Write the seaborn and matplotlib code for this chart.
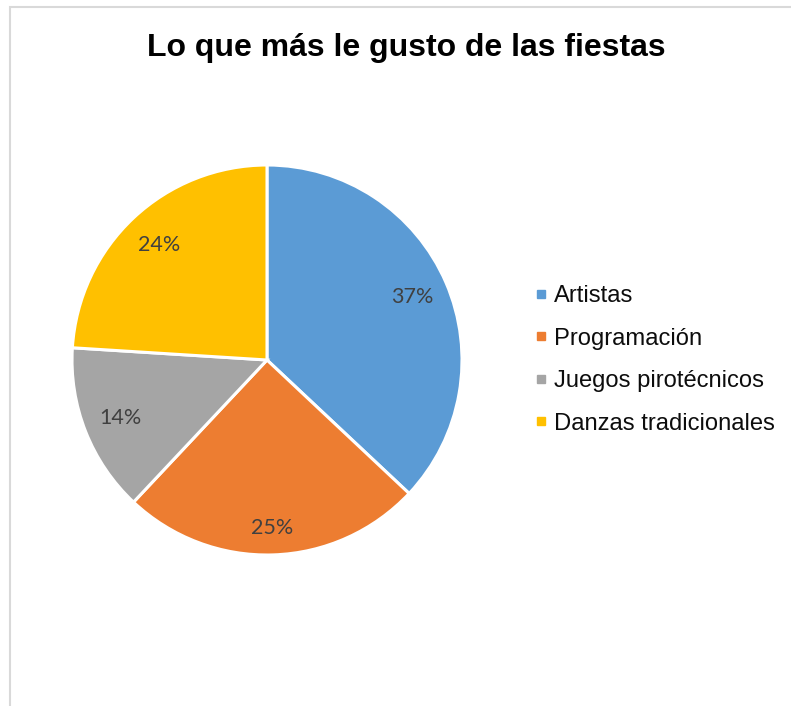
import matplotlib
matplotlib.use("Agg")
import matplotlib.pyplot as plt
import seaborn as sns
from matplotlib.lines import Line2D
from matplotlib.patches import Rectangle

categorias = ["Artistas", "Programación", "Juegos pirotécnicos", "Danzas tradicionales"]
porcentajes = [37, 25, 14, 24]
colores = ["#5B9BD5", "#ED7D31", "#A5A5A5", "#FFC000"]
titulo = "Lo que más le gusto de las fiestas"

sns.set_theme(style="white")
plt.rcParams['font.family'] = ['Liberation Sans', 'DejaVu Sans']
paleta = sns.color_palette(colores)

fig = plt.figure(figsize=(7.91, 7.06), dpi=100)

# chart border (light gray, cut by the image on right/bottom)
fig.patches.append(Rectangle((10/791, -0.1), 1.2, (706-7)/706 + 0.1,
                             transform=fig.transFigure, fill=False,
                             edgecolor="#D9D9D9", linewidth=1.5))

ax = fig.add_axes([72/791, (706-555)/706, 390/791, 390/706])
wedges, texts, autotexts = ax.pie(
    porcentajes, colors=paleta, startangle=90, counterclock=False,
    autopct="%1.0f%%", pctdistance=0.81,
    wedgeprops=dict(edgecolor="white", linewidth=2.2))
for t in autotexts:
    t.set_fontfamily(["Lato", "DejaVu Sans"])
    t.set_fontsize(15.5)
    t.set_color("#404040")
# excel pushes the bottom label a bit further out
x, y = autotexts[1].get_position()
autotexts[1].set_position((x * 0.86 / 0.81, y * 0.86 / 0.81))
ax.set_xlim(-1.0, 1.0)
ax.set_ylim(-1.0, 1.0)
ax.set_aspect("equal")

fig.text(406/791, 1 - 48/706, titulo, ha="center", va="center",
         fontsize=23, fontweight="bold", color="black")

handles = [Line2D([0], [0], marker="s", linestyle="none", markersize=6,
                  markerfacecolor=c, markeredgecolor=c) for c in paleta]
leg = fig.legend(handles, categorias, loc="center left",
                 bbox_to_anchor=(534/791, 1 - 360/706), frameon=False,
                 fontsize=17.1, handlelength=0.6, handletextpad=0.25,
                 labelspacing=0.86, borderpad=0, borderaxespad=0)
for t in leg.get_texts():
    t.set_color("#0D0D0D")

fig.savefig("out.png", dpi=100)
